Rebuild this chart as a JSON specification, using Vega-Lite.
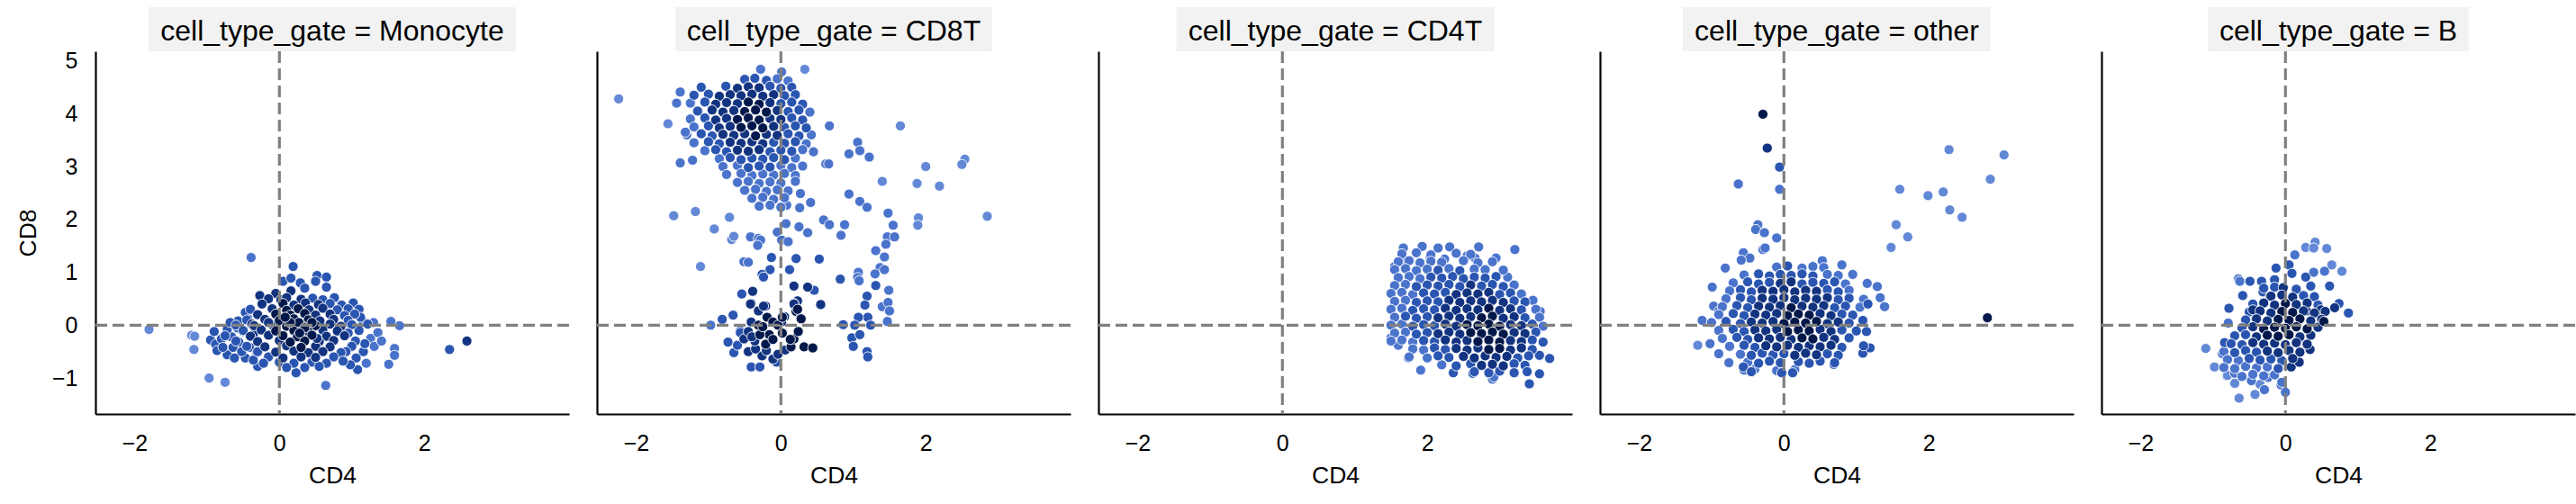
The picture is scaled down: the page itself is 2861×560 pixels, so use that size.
{
"$schema": "https://vega.github.io/schema/vega-lite/v6.json",
"background": "white",
"padding": {"left": 18, "top": 8, "right": 18, "bottom": 10},
"config": {"font": "Liberation Sans", "view": {"stroke": null},
 "axis": {"grid": false, "ticks": false, "tickSize": 0, "labelPadding": 20, "labelFontSize": 25, "titleFontSize": 26.5, "titleFontWeight": "normal", "labelColor": "black", "titleColor": "black", "domainColor": "black", "domainWidth": 2.2, "labelFlush": false, "format": "d"},
 "circle": {"size": 125, "stroke": "white", "strokeWidth": 0.9, "opacity": 1},
 "rule": {"color": "#808080", "strokeWidth": 3.2, "strokeDash": [13, 6]},
 "text": {"fontSize": 32, "color": "black", "align": "center", "baseline": "middle", "dy": 2}},
"datasets": {
"mono": [
{"x":-1.80,"y":-0.08,"d":0},{"x":-0.39,"y":1.28,"d":1},{"x":0.19,"y":1.11,"d":2},{"x":-1.21,"y":-0.19,"d":0},{"x":-1.17,"y":-0.21,"d":0},{"x":-1.18,"y":-0.46,"d":0},{"x":-0.97,"y":-1.0,"d":0},{"x":-0.75,"y":-1.08,"d":0},{"x":0.64,"y":-1.14,"d":1},{"x":2.35,"y":-0.46,"d":2},{"x":2.59,"y":-0.30,"d":3},{"x":1.51,"y":-0.74,"d":1},{"x":1.59,"y":-0.44,"d":1},{"x":1.59,"y":-0.57,"d":1},{"x":1.66,"y":-0.01,"d":1},{"x":1.54,"y":0.07,"d":1},{"x":1.08,"y":-0.84,"d":2},{"x":0.23,"y":-0.9,"d":2},{"x":-0.30,"y":-0.78,"d":2},{"x":1.02,"y":0.42,"d":2},{"x":1.1,"y":0.3,"d":2},{"x":-0.27,"y":0.56,"d":3},{"x":0.05,"y":0.83,"d":2},{"x":0.16,"y":0.89,"d":2},{"x":0.29,"y":0.80,"d":2},{"x":0.52,"y":0.94,"d":2},{"x":0.65,"y":0.91,"d":2},{"x":0.65,"y":0.72,"d":2},{"x":0.50,"y":0.83,"d":2},{"x":0.16,"y":0.65,"d":3},{"x":0.35,"y":0.7,"d":2},{"x":-0.05,"y":0.6,"d":3},
{"x":-0.95,"y":-0.28,"d":2},{"x":-0.88,"y":-0.36,"d":2},{"x":-0.8,"y":-0.26,"d":2},{"x":-0.86,"y":-0.48,"d":2},{"x":-0.72,"y":-0.56,"d":2},{"x":-0.62,"y":-0.62,"d":2},{"x":-0.66,"y":-0.22,"d":2},{"x":-0.56,"y":-0.32,"d":2},{"x":-0.5,"y":-0.12,"d":2},{"x":-0.44,"y":0.13,"d":2},{"x":-0.47,"y":0.24,"d":2},{"x":-0.57,"y":0.08,"d":2},{"x":-0.41,"y":-0.42,"d":2},{"x":-0.36,"y":-0.18,"d":3},{"x":-0.31,"y":-0.52,"d":2},{"x":-0.47,"y":-0.62,"d":2},{"x":-0.36,"y":-0.66,"d":2},{"x":-0.9,"y":-0.12,"d":2},{"x":-0.72,"y":-0.08,"d":2},{"x":-0.78,"y":-0.42,"d":2},{"x":-0.64,"y":-0.42,"d":2},{"x":-0.58,"y":-0.05,"d":2},{"x":-0.38,"y":0.02,"d":3},{"x":-0.68,"y":0.05,"d":2},{"x":-0.52,"y":-0.5,"d":2},
{"x":1.1,"y":-0.1,"d":2},{"x":1.22,"y":0.02,"d":2},{"x":1.26,"y":-0.25,"d":1},{"x":1.31,"y":-0.4,"d":1},{"x":1.16,"y":-0.5,"d":2},{"x":1.06,"y":-0.62,"d":2},{"x":1.2,"y":-0.72,"d":1},{"x":1.36,"y":-0.14,"d":1},{"x":1.41,"y":-0.3,"d":1},{"x":1.12,"y":0.15,"d":2},{"x":1.3,"y":0.05,"d":1},{"x":1.18,"y":-0.35,"d":2},{"x":1.05,"y":-0.3,"d":2},{"x":0.98,"y":-0.75,"d":2},
{"x":-0.15,"y":0.5,"d":3},{"x":0.02,"y":0.48,"d":3},{"x":0.1,"y":0.52,"d":3},{"x":0.3,"y":0.49,"d":3},{"x":0.46,"y":0.51,"d":2},{"x":0.6,"y":0.48,"d":2},{"x":0.76,"y":0.52,"d":2},
{"x":-0.24,"y":0.4,"d":3},{"x":0.05,"y":0.41,"d":4},{"x":0.2,"y":0.38,"d":3},{"x":0.36,"y":0.42,"d":3},{"x":0.54,"y":0.39,"d":3},{"x":0.7,"y":0.41,"d":2},{"x":0.86,"y":0.38,"d":2},
{"x":-0.4,"y":0.3,"d":2},{"x":-0.1,"y":0.31,"d":3},{"x":0.1,"y":0.28,"d":4},{"x":0.26,"y":0.31,"d":4},{"x":0.41,"y":0.29,"d":3},{"x":0.6,"y":0.32,"d":3},{"x":0.8,"y":0.29,"d":2},{"x":0.95,"y":0.31,"d":2},
{"x":-0.3,"y":0.2,"d":3},{"x":-0.05,"y":0.21,"d":4},{"x":0.15,"y":0.19,"d":4},{"x":0.35,"y":0.22,"d":4},{"x":0.5,"y":0.19,"d":3},{"x":0.7,"y":0.21,"d":3},{"x":0.9,"y":0.18,"d":2},{"x":1.04,"y":0.21,"d":2},
{"x":-0.45,"y":0.1,"d":2},{"x":-0.2,"y":0.11,"d":3},{"x":0.0,"y":0.09,"d":4},{"x":0.2,"y":0.12,"d":4},{"x":0.4,"y":0.1,"d":4},{"x":0.56,"y":0.08,"d":3},{"x":0.75,"y":0.11,"d":3},{"x":0.95,"y":0.09,"d":2},{"x":1.15,"y":0.08,"d":1},
{"x":-0.6,"y":0.0,"d":2},{"x":-0.35,"y":-0.01,"d":3},{"x":-0.1,"y":0.01,"d":3},{"x":0.1,"y":-0.02,"d":4},{"x":0.3,"y":0.01,"d":4},{"x":0.5,"y":-0.01,"d":4},{"x":0.7,"y":0.02,"d":3},{"x":0.85,"y":-0.02,"d":3},{"x":1.0,"y":0.01,"d":2},
{"x":-0.5,"y":-0.1,"d":2},{"x":-0.25,"y":-0.09,"d":3},{"x":-0.05,"y":-0.11,"d":4},{"x":0.2,"y":-0.1,"d":4},{"x":0.4,"y":-0.12,"d":4},{"x":0.6,"y":-0.09,"d":3},{"x":0.8,"y":-0.11,"d":3},{"x":0.95,"y":-0.15,"d":2},
{"x":-0.75,"y":-0.2,"d":2},{"x":-0.4,"y":-0.21,"d":3},{"x":-0.15,"y":-0.19,"d":3},{"x":0.05,"y":-0.2,"d":4},{"x":0.25,"y":-0.22,"d":4},{"x":0.45,"y":-0.19,"d":4},{"x":0.65,"y":-0.21,"d":3},{"x":0.9,"y":-0.2,"d":3},
{"x":-0.6,"y":-0.3,"d":2},{"x":-0.3,"y":-0.31,"d":3},{"x":0.0,"y":-0.29,"d":3},{"x":0.15,"y":-0.32,"d":4},{"x":0.35,"y":-0.3,"d":4},{"x":0.55,"y":-0.31,"d":3},{"x":0.75,"y":-0.29,"d":3},{"x":1.0,"y":-0.4,"d":2},
{"x":-0.45,"y":-0.4,"d":2},{"x":-0.2,"y":-0.41,"d":3},{"x":0.1,"y":-0.39,"d":3},{"x":0.3,"y":-0.42,"d":4},{"x":0.5,"y":-0.4,"d":3},{"x":0.7,"y":-0.41,"d":3},{"x":0.92,"y":-0.5,"d":2},
{"x":-0.3,"y":-0.5,"d":2},{"x":-0.05,"y":-0.51,"d":3},{"x":0.2,"y":-0.49,"d":3},{"x":0.4,"y":-0.52,"d":3},{"x":0.6,"y":-0.5,"d":3},{"x":0.85,"y":-0.52,"d":2},
{"x":-0.15,"y":-0.6,"d":2},{"x":0.05,"y":-0.62,"d":3},{"x":0.3,"y":-0.6,"d":3},{"x":0.5,"y":-0.61,"d":3},{"x":0.75,"y":-0.6,"d":2},
{"x":-0.22,"y":-0.72,"d":2},{"x":0.0,"y":-0.7,"d":2},{"x":0.2,"y":-0.72,"d":2},{"x":0.45,"y":-0.7,"d":2},{"x":0.65,"y":-0.72,"d":2},{"x":0.88,"y":-0.68,"d":2},
{"x":0.1,"y":-0.8,"d":2},{"x":0.35,"y":-0.8,"d":2},{"x":0.55,"y":-0.78,"d":2},
{"x":0.27,"y":0.05,"d":4},{"x":0.35,"y":-0.05,"d":4},{"x":0.15,"y":0.05,"d":4},{"x":0.45,"y":0.05,"d":4},{"x":0.28,"y":-0.15,"d":4},{"x":0.08,"y":0.15,"d":4},{"x":0.52,"y":-0.25,"d":3},{"x":-0.15,"y":0.05,"d":3}
],
"cd8": [
{"x":-2.24,"y":4.28,"d":0},{"x":-0.28,"y":4.84,"d":1},{"x":0.01,"y":4.79,"d":1},{"x":0.33,"y":4.84,"d":0},{"x":0.67,"y":3.77,"d":1},{"x":1.65,"y":3.77,"d":0},{"x":1.06,"y":3.46,"d":1},{"x":1.09,"y":3.30,"d":1},{"x":0.94,"y":3.24,"d":1},{"x":1.22,"y":3.18,"d":1},{"x":0.62,"y":3.05,"d":1},{"x":0.66,"y":3.05,"d":1},{"x":2.0,"y":3.0,"d":0},{"x":2.54,"y":3.14,"d":0},{"x":2.50,"y":3.04,"d":0},{"x":1.40,"y":2.72,"d":0},{"x":1.88,"y":2.68,"d":0},{"x":2.19,"y":2.63,"d":0},{"x":0.94,"y":2.48,"d":1},{"x":1.09,"y":2.34,"d":1},{"x":1.19,"y":2.23,"d":1},{"x":2.85,"y":2.06,"d":0},{"x":1.48,"y":2.12,"d":1},{"x":1.90,"y":2.03,"d":0},{"x":1.89,"y":1.89,"d":0},{"x":1.55,"y":1.89,"d":1},{"x":1.47,"y":1.67,"d":1},{"x":1.57,"y":1.67,"d":1},{"x":1.45,"y":1.53,"d":1},{"x":1.31,"y":1.41,"d":1},{"x":1.43,"y":1.29,"d":1},{"x":1.37,"y":1.09,"d":1},{"x":1.43,"y":1.05,"d":1},{"x":1.30,"y":0.97,"d":1},{"x":1.07,"y":1.0,"d":1},{"x":1.06,"y":0.9,"d":1},{"x":1.08,"y":0.84,"d":1},{"x":0.82,"y":0.87,"d":2},{"x":1.31,"y":0.75,"d":2},{"x":1.49,"y":0.66,"d":1},{"x":1.19,"y":0.55,"d":2},{"x":1.16,"y":0.38,"d":2},{"x":1.40,"y":0.35,"d":1},{"x":1.48,"y":0.43,"d":1},{"x":1.50,"y":0.27,"d":1},{"x":1.47,"y":0.07,"d":1},{"x":1.20,"y":0.15,"d":2},{"x":1.07,"y":0.15,"d":2},{"x":1.24,"y":0.0,"d":2},{"x":0.86,"y":0.01,"d":2},{"x":1.02,"y":0.0,"d":2},{"x":0.98,"y":-0.24,"d":2},{"x":1.0,"y":-0.4,"d":2},{"x":1.09,"y":-0.18,"d":2},{"x":1.19,"y":-0.5,"d":2},{"x":1.2,"y":-0.6,"d":2},
{"x":-1.48,"y":2.07,"d":0},{"x":-1.18,"y":2.15,"d":0},{"x":-0.92,"y":1.82,"d":0},{"x":-0.71,"y":2.04,"d":0},{"x":-1.11,"y":1.11,"d":0},{"x":-0.68,"y":1.62,"d":0},{"x":-0.65,"y":1.68,"d":0},{"x":-0.42,"y":1.67,"d":1},{"x":-0.31,"y":1.64,"d":1},{"x":-0.28,"y":1.61,"d":1},{"x":-0.32,"y":1.51,"d":1},{"x":-0.51,"y":1.2,"d":1},{"x":-0.45,"y":1.19,"d":1},{"x":-0.05,"y":1.76,"d":1},{"x":0.07,"y":1.92,"d":1},{"x":0.01,"y":1.61,"d":1},{"x":0.1,"y":1.58,"d":1},{"x":0.25,"y":1.86,"d":1},{"x":0.37,"y":1.75,"d":1},{"x":0.59,"y":1.99,"d":1},{"x":0.67,"y":1.9,"d":1},{"x":0.88,"y":1.9,"d":1},{"x":0.83,"y":1.7,"d":1},{"x":0.41,"y":2.32,"d":1},{"x":0.26,"y":2.22,"d":1},{"x":0.08,"y":2.27,"d":1},{"x":0.27,"y":2.49,"d":1},{"x":-0.13,"y":1.28,"d":2},{"x":0.21,"y":1.26,"d":2},{"x":0.53,"y":1.25,"d":2},{"x":0.12,"y":1.05,"d":2},{"x":-0.15,"y":1.05,"d":2},{"x":-0.26,"y":0.96,"d":2},{"x":-0.24,"y":0.91,"d":2},{"x":-0.39,"y":0.64,"d":3},{"x":-0.54,"y":0.59,"d":2},{"x":0.18,"y":0.74,"d":3},{"x":0.37,"y":0.72,"d":3},{"x":0.46,"y":0.66,"d":2},{"x":0.55,"y":0.39,"d":3},{"x":0.23,"y":0.46,"d":3},{"x":0.18,"y":0.41,"d":3},{"x":-0.41,"y":0.41,"d":3},{"x":-0.21,"y":0.36,"d":3},{"x":0.21,"y":0.26,"d":4},{"x":0.27,"y":0.13,"d":4},{"x":0.05,"y":0.16,"d":3},{"x":0.01,"y":0.06,"d":3},{"x":-0.66,"y":0.19,"d":2},{"x":-0.81,"y":0.11,"d":2},{"x":-0.97,"y":0.0,"d":1},{"x":-0.56,"y":-0.11,"d":2},{"x":-0.56,"y":-0.14,"d":2},
{"x":-0.73,"y":-0.32,"d":2},{"x":-0.65,"y":-0.52,"d":2},{"x":-0.6,"y":-0.38,"d":2},{"x":-0.51,"y":-0.26,"d":3},{"x":-0.41,"y":-0.79,"d":2},{"x":-0.29,"y":-0.79,"d":2},{"x":-0.26,"y":-0.58,"d":3},{"x":-0.11,"y":-0.64,"d":3},{"x":-0.06,"y":-0.7,"d":2},{"x":-0.04,"y":-0.55,"d":3},{"x":0.06,"y":-0.47,"d":3},{"x":0.14,"y":-0.41,"d":4},{"x":0.18,"y":-0.26,"d":4},{"x":0.24,"y":-0.12,"d":4},{"x":0.32,"y":-0.41,"d":4},{"x":0.44,"y":-0.43,"d":4},{"x":-0.45,"y":-0.5,"d":3},{"x":-0.35,"y":-0.45,"d":3},{"x":-0.2,"y":-0.48,"d":3},
{"x":-0.31,"y":0.27,"d":3},{"x":-0.24,"y":0.36,"d":3},{"x":-0.19,"y":0.15,"d":4},{"x":-0.11,"y":0.06,"d":4},{"x":-0.04,"y":0.0,"d":4},{"x":-0.16,"y":-0.18,"d":4},{"x":-0.29,"y":-0.18,"d":4},{"x":-0.36,"y":-0.30,"d":3},{"x":-0.21,"y":-0.36,"d":4},{"x":-0.11,"y":-0.27,"d":4},{"x":-0.31,"y":0.0,"d":4},{"x":-0.41,"y":0.06,"d":3},{"x":-0.25,"y":-0.03,"d":4},{"x":0.02,"y":0.15,"d":4},{"x":0.02,"y":-0.15,"d":4},{"x":0.13,"y":-0.27,"d":4},{"x":0.28,"y":0.12,"d":4},{"x":0.23,"y":0.30,"d":4},{"x":0.18,"y":0.40,"d":3},{"x":-0.42,"y":0.4,"d":3},{"x":-0.45,"y":-0.12,"d":3},{"x":-0.4,"y":-0.22,"d":3},
{"x":-0.5,"y":4.65,"d":2},{"x":-0.36,"y":4.67,"d":2},{"x":-0.2,"y":4.63,"d":2},{"x":-0.05,"y":4.66,"d":1},{"x":0.1,"y":4.62,"d":1},
{"x":-1.1,"y":4.5,"d":2},{"x":-0.76,"y":4.52,"d":2},{"x":-0.6,"y":4.48,"d":3},{"x":-0.45,"y":4.51,"d":3},{"x":-0.3,"y":4.49,"d":3},{"x":-0.15,"y":4.52,"d":2},{"x":0.0,"y":4.48,"d":2},{"x":0.15,"y":4.5,"d":2},
{"x":-1.2,"y":4.35,"d":2},{"x":-1.0,"y":4.37,"d":2},{"x":-0.85,"y":4.33,"d":3},{"x":-0.7,"y":4.36,"d":3},{"x":-0.55,"y":4.34,"d":3},{"x":-0.4,"y":4.37,"d":3},{"x":-0.25,"y":4.33,"d":3},{"x":-0.1,"y":4.36,"d":3},{"x":0.05,"y":4.34,"d":2},{"x":0.2,"y":4.36,"d":2},
{"x":-1.25,"y":4.2,"d":1},{"x":-1.05,"y":4.22,"d":2},{"x":-0.9,"y":4.18,"d":3},{"x":-0.75,"y":4.21,"d":3},{"x":-0.6,"y":4.19,"d":3},{"x":-0.45,"y":4.22,"d":4},{"x":-0.3,"y":4.18,"d":4},{"x":-0.15,"y":4.21,"d":3},{"x":0.0,"y":4.19,"d":2},{"x":0.15,"y":4.22,"d":2},{"x":0.3,"y":4.18,"d":2},
{"x":-1.15,"y":4.05,"d":2},{"x":-0.95,"y":4.07,"d":3},{"x":-0.8,"y":4.03,"d":3},{"x":-0.65,"y":4.06,"d":3},{"x":-0.5,"y":4.04,"d":4},{"x":-0.35,"y":4.07,"d":4},{"x":-0.2,"y":4.03,"d":4},{"x":-0.05,"y":4.06,"d":3},{"x":0.1,"y":4.04,"d":2},{"x":0.25,"y":4.07,"d":2},{"x":0.4,"y":4.03,"d":1},
{"x":-1.25,"y":3.9,"d":1},{"x":-1.05,"y":3.92,"d":2},{"x":-0.9,"y":3.88,"d":3},{"x":-0.75,"y":3.91,"d":3},{"x":-0.6,"y":3.89,"d":4},{"x":-0.45,"y":3.92,"d":4},{"x":-0.3,"y":3.88,"d":4},{"x":-0.15,"y":3.91,"d":3},{"x":0.0,"y":3.89,"d":3},{"x":0.15,"y":3.92,"d":2},{"x":0.3,"y":3.88,"d":2},
{"x":-1.2,"y":3.75,"d":1},{"x":-1.0,"y":3.77,"d":2},{"x":-0.85,"y":3.73,"d":3},{"x":-0.7,"y":3.76,"d":3},{"x":-0.55,"y":3.74,"d":4},{"x":-0.4,"y":3.77,"d":4},{"x":-0.25,"y":3.73,"d":4},{"x":-0.1,"y":3.76,"d":3},{"x":0.05,"y":3.74,"d":2},{"x":0.2,"y":3.77,"d":2},{"x":0.35,"y":3.73,"d":2},
{"x":-1.3,"y":3.6,"d":1},{"x":-1.1,"y":3.62,"d":2},{"x":-0.95,"y":3.58,"d":2},{"x":-0.8,"y":3.61,"d":3},{"x":-0.65,"y":3.59,"d":3},{"x":-0.5,"y":3.62,"d":3},{"x":-0.35,"y":3.58,"d":4},{"x":-0.2,"y":3.61,"d":3},{"x":-0.05,"y":3.59,"d":3},{"x":0.1,"y":3.62,"d":2},{"x":0.25,"y":3.58,"d":2},{"x":0.42,"y":3.6,"d":1},
{"x":-1.2,"y":3.45,"d":1},{"x":-1.0,"y":3.47,"d":2},{"x":-0.85,"y":3.43,"d":2},{"x":-0.7,"y":3.46,"d":3},{"x":-0.55,"y":3.44,"d":3},{"x":-0.4,"y":3.47,"d":3},{"x":-0.25,"y":3.43,"d":3},{"x":-0.1,"y":3.46,"d":2},{"x":0.05,"y":3.44,"d":2},{"x":0.2,"y":3.47,"d":2},{"x":0.35,"y":3.43,"d":1},
{"x":-1.05,"y":3.3,"d":1},{"x":-0.9,"y":3.32,"d":2},{"x":-0.75,"y":3.28,"d":2},{"x":-0.6,"y":3.31,"d":3},{"x":-0.45,"y":3.29,"d":3},{"x":-0.3,"y":3.32,"d":3},{"x":-0.15,"y":3.28,"d":2},{"x":0.0,"y":3.31,"d":2},{"x":0.15,"y":3.29,"d":2},{"x":0.3,"y":3.32,"d":1},{"x":0.45,"y":3.28,"d":1},
{"x":-1.39,"y":4.41,"d":1},{"x":-1.56,"y":3.81,"d":0},{"x":-1.44,"y":4.2,"d":1},{"x":-1.32,"y":3.65,"d":1},{"x":-1.39,"y":3.07,"d":1},{"x":-1.22,"y":3.12,"d":1},
{"x":-0.85,"y":3.15,"d":1},{"x":-0.7,"y":3.17,"d":2},{"x":-0.55,"y":3.13,"d":2},{"x":-0.4,"y":3.16,"d":2},{"x":-0.25,"y":3.14,"d":2},{"x":-0.1,"y":3.17,"d":2},{"x":0.05,"y":3.13,"d":2},{"x":0.2,"y":3.16,"d":1},
{"x":-0.8,"y":3.0,"d":1},{"x":-0.6,"y":3.02,"d":1},{"x":-0.45,"y":2.98,"d":2},{"x":-0.3,"y":3.01,"d":2},{"x":-0.15,"y":2.99,"d":2},{"x":0.0,"y":3.02,"d":1},{"x":0.15,"y":2.98,"d":1},{"x":0.3,"y":3.01,"d":1},
{"x":-0.75,"y":2.85,"d":1},{"x":-0.55,"y":2.87,"d":1},{"x":-0.4,"y":2.83,"d":1},{"x":-0.25,"y":2.86,"d":1},{"x":-0.1,"y":2.84,"d":1},{"x":0.05,"y":2.87,"d":1},{"x":0.2,"y":2.83,"d":1},
{"x":-0.6,"y":2.7,"d":1},{"x":-0.45,"y":2.72,"d":1},{"x":-0.3,"y":2.68,"d":1},{"x":-0.15,"y":2.71,"d":1},{"x":0.0,"y":2.69,"d":1},{"x":0.2,"y":2.72,"d":1},
{"x":-0.5,"y":2.55,"d":1},{"x":-0.35,"y":2.57,"d":1},{"x":-0.2,"y":2.53,"d":1},{"x":-0.05,"y":2.56,"d":1},{"x":0.1,"y":2.54,"d":1},
{"x":-0.4,"y":2.4,"d":1},{"x":-0.25,"y":2.42,"d":1},{"x":-0.1,"y":2.38,"d":1},{"x":0.05,"y":2.41,"d":1},
{"x":-0.3,"y":2.25,"d":1},{"x":-0.15,"y":2.27,"d":1},{"x":0.0,"y":2.23,"d":1}
],
"cd4": [
{"x":1.67,"y":1.46,"d":1},{"x":1.93,"y":1.49,"d":1},{"x":2.15,"y":1.46,"d":1},{"x":2.31,"y":1.48,"d":1},{"x":2.71,"y":1.48,"d":1},{"x":3.21,"y":1.43,"d":1},{"x":2.95,"y":1.27,"d":1},{"x":2.66,"y":1.27,"d":1},{"x":2.55,"y":1.31,"d":1},{"x":2.24,"y":1.25,"d":1},{"x":2.04,"y":1.28,"d":1},{"x":1.65,"y":1.23,"d":1},{"x":1.55,"y":1.11,"d":1},{"x":2.80,"y":1.05,"d":1},{"x":3.11,"y":0.91,"d":1},
{"x":1.91,"y":-0.85,"d":1},{"x":2.36,"y":-0.9,"d":2},{"x":2.63,"y":-0.91,"d":2},{"x":2.90,"y":-1.02,"d":1},{"x":2.92,"y":-0.98,"d":1},{"x":3.41,"y":-1.11,"d":2},{"x":3.55,"y":-0.92,"d":2},{"x":3.69,"y":-0.63,"d":2},{"x":3.55,"y":-0.57,"d":2},{"x":3.56,"y":0.26,"d":1},{"x":3.46,"y":0.47,"d":1},{"x":1.74,"y":-0.62,"d":1},{"x":1.50,"y":-0.24,"d":1},{"x":1.60,"y":-0.38,"d":1},
{"x":1.65,"y":1.35,"d":1},{"x":1.85,"y":1.37,"d":1},{"x":2.05,"y":1.33,"d":1},{"x":2.4,"y":1.36,"d":1},{"x":2.6,"y":1.34,"d":1},
{"x":1.6,"y":1.2,"d":1},{"x":1.75,"y":1.22,"d":1},{"x":1.9,"y":1.18,"d":1},{"x":2.05,"y":1.21,"d":1},{"x":2.2,"y":1.19,"d":1},{"x":2.5,"y":1.22,"d":1},{"x":2.7,"y":1.18,"d":1},{"x":2.9,"y":1.2,"d":1},
{"x":1.55,"y":1.05,"d":1},{"x":1.7,"y":1.07,"d":1},{"x":1.85,"y":1.03,"d":1},{"x":2.0,"y":1.06,"d":1},{"x":2.15,"y":1.04,"d":2},{"x":2.3,"y":1.07,"d":1},{"x":2.45,"y":1.03,"d":2},{"x":2.65,"y":1.06,"d":1},{"x":3.05,"y":1.04,"d":1},
{"x":1.6,"y":0.9,"d":1},{"x":1.75,"y":0.92,"d":1},{"x":1.9,"y":0.88,"d":1},{"x":2.05,"y":0.91,"d":2},{"x":2.2,"y":0.89,"d":2},{"x":2.35,"y":0.92,"d":2},{"x":2.5,"y":0.88,"d":2},{"x":2.65,"y":0.91,"d":2},{"x":2.8,"y":0.89,"d":2},{"x":2.95,"y":0.92,"d":2},
{"x":1.55,"y":0.75,"d":1},{"x":1.7,"y":0.77,"d":1},{"x":1.85,"y":0.73,"d":2},{"x":2.0,"y":0.76,"d":2},{"x":2.15,"y":0.74,"d":2},{"x":2.3,"y":0.77,"d":2},{"x":2.45,"y":0.73,"d":2},{"x":2.6,"y":0.76,"d":3},{"x":2.75,"y":0.74,"d":2},{"x":2.9,"y":0.77,"d":2},{"x":3.05,"y":0.73,"d":2},{"x":3.2,"y":0.76,"d":1},
{"x":1.5,"y":0.6,"d":1},{"x":1.65,"y":0.62,"d":1},{"x":1.8,"y":0.58,"d":1},{"x":1.95,"y":0.61,"d":2},{"x":2.1,"y":0.59,"d":2},{"x":2.25,"y":0.62,"d":2},{"x":2.4,"y":0.58,"d":3},{"x":2.55,"y":0.61,"d":3},{"x":2.7,"y":0.59,"d":3},{"x":2.85,"y":0.62,"d":3},{"x":3.0,"y":0.58,"d":2},{"x":3.15,"y":0.61,"d":2},{"x":3.3,"y":0.59,"d":1},
{"x":1.55,"y":0.45,"d":1},{"x":1.7,"y":0.47,"d":1},{"x":1.85,"y":0.43,"d":2},{"x":2.0,"y":0.46,"d":2},{"x":2.15,"y":0.44,"d":2},{"x":2.3,"y":0.47,"d":3},{"x":2.45,"y":0.43,"d":3},{"x":2.6,"y":0.46,"d":3},{"x":2.75,"y":0.44,"d":3},{"x":2.9,"y":0.47,"d":3},{"x":3.05,"y":0.43,"d":3},{"x":3.2,"y":0.46,"d":2},{"x":3.35,"y":0.44,"d":2},
{"x":1.5,"y":0.3,"d":1},{"x":1.65,"y":0.32,"d":1},{"x":1.8,"y":0.28,"d":2},{"x":1.95,"y":0.31,"d":2},{"x":2.1,"y":0.29,"d":2},{"x":2.25,"y":0.32,"d":3},{"x":2.4,"y":0.28,"d":3},{"x":2.55,"y":0.31,"d":3},{"x":2.7,"y":0.29,"d":3},{"x":2.85,"y":0.32,"d":4},{"x":3.0,"y":0.28,"d":3},{"x":3.15,"y":0.31,"d":3},{"x":3.3,"y":0.29,"d":2},{"x":3.5,"y":0.3,"d":1},
{"x":1.55,"y":0.15,"d":1},{"x":1.7,"y":0.17,"d":2},{"x":1.85,"y":0.13,"d":2},{"x":2.0,"y":0.16,"d":2},{"x":2.15,"y":0.14,"d":3},{"x":2.3,"y":0.17,"d":3},{"x":2.45,"y":0.13,"d":3},{"x":2.6,"y":0.16,"d":3},{"x":2.75,"y":0.14,"d":4},{"x":2.9,"y":0.17,"d":4},{"x":3.05,"y":0.13,"d":3},{"x":3.2,"y":0.16,"d":3},{"x":3.35,"y":0.14,"d":2},{"x":3.55,"y":0.15,"d":1},
{"x":1.5,"y":0.0,"d":1},{"x":1.65,"y":0.02,"d":1},{"x":1.8,"y":-0.02,"d":2},{"x":1.95,"y":0.01,"d":2},{"x":2.1,"y":-0.01,"d":2},{"x":2.25,"y":0.02,"d":3},{"x":2.4,"y":-0.02,"d":3},{"x":2.55,"y":0.01,"d":4},{"x":2.7,"y":-0.01,"d":4},{"x":2.85,"y":0.02,"d":4},{"x":3.0,"y":-0.02,"d":4},{"x":3.15,"y":0.01,"d":3},{"x":3.3,"y":-0.01,"d":3},{"x":3.45,"y":0.02,"d":2},{"x":3.6,"y":-0.02,"d":1},
{"x":1.55,"y":-0.15,"d":1},{"x":1.7,"y":-0.13,"d":1},{"x":1.85,"y":-0.17,"d":2},{"x":2.0,"y":-0.14,"d":2},{"x":2.15,"y":-0.16,"d":3},{"x":2.3,"y":-0.13,"d":3},{"x":2.45,"y":-0.17,"d":3},{"x":2.6,"y":-0.14,"d":4},{"x":2.75,"y":-0.16,"d":4},{"x":2.9,"y":-0.13,"d":4},{"x":3.05,"y":-0.17,"d":4},{"x":3.2,"y":-0.14,"d":3},{"x":3.35,"y":-0.16,"d":3},{"x":3.5,"y":-0.13,"d":2},
{"x":1.5,"y":-0.3,"d":1},{"x":1.65,"y":-0.28,"d":1},{"x":1.8,"y":-0.32,"d":1},{"x":1.95,"y":-0.29,"d":2},{"x":2.1,"y":-0.31,"d":2},{"x":2.25,"y":-0.28,"d":3},{"x":2.4,"y":-0.32,"d":3},{"x":2.55,"y":-0.29,"d":3},{"x":2.7,"y":-0.31,"d":4},{"x":2.85,"y":-0.28,"d":4},{"x":3.0,"y":-0.32,"d":4},{"x":3.15,"y":-0.29,"d":3},{"x":3.3,"y":-0.31,"d":3},{"x":3.45,"y":-0.28,"d":2},{"x":3.6,"y":-0.32,"d":2},
{"x":1.8,"y":-0.45,"d":1},{"x":1.95,"y":-0.47,"d":1},{"x":2.1,"y":-0.43,"d":2},{"x":2.25,"y":-0.46,"d":2},{"x":2.4,"y":-0.44,"d":3},{"x":2.55,"y":-0.47,"d":3},{"x":2.7,"y":-0.43,"d":3},{"x":2.85,"y":-0.46,"d":4},{"x":3.0,"y":-0.44,"d":4},{"x":3.15,"y":-0.47,"d":3},{"x":3.3,"y":-0.43,"d":3},{"x":3.45,"y":-0.46,"d":2},
{"x":1.75,"y":-0.6,"d":1},{"x":2.0,"y":-0.62,"d":1},{"x":2.15,"y":-0.58,"d":2},{"x":2.3,"y":-0.61,"d":2},{"x":2.5,"y":-0.59,"d":3},{"x":2.65,"y":-0.62,"d":3},{"x":2.8,"y":-0.58,"d":3},{"x":2.95,"y":-0.61,"d":3},{"x":3.1,"y":-0.59,"d":3},{"x":3.25,"y":-0.62,"d":2},{"x":3.4,"y":-0.58,"d":2},
{"x":2.2,"y":-0.75,"d":1},{"x":2.4,"y":-0.77,"d":2},{"x":2.6,"y":-0.73,"d":2},{"x":2.75,"y":-0.76,"d":3},{"x":2.9,"y":-0.74,"d":3},{"x":3.05,"y":-0.77,"d":3},{"x":3.2,"y":-0.73,"d":2},{"x":3.35,"y":-0.76,"d":2},
{"x":2.65,"y":-0.88,"d":2},{"x":2.85,"y":-0.9,"d":2},{"x":3.0,"y":-0.87,"d":2},{"x":3.2,"y":-0.9,"d":2},{"x":3.38,"y":-0.88,"d":2}
],
"oth": [
{"x":-0.29,"y":3.99,"d":4},{"x":-0.23,"y":3.35,"d":3},{"x":-0.06,"y":2.99,"d":2},{"x":-0.63,"y":2.67,"d":1},{"x":-0.06,"y":2.57,"d":1},{"x":2.28,"y":3.32,"d":0},{"x":3.04,"y":3.22,"d":0},{"x":2.85,"y":2.76,"d":0},{"x":1.60,"y":2.57,"d":0},{"x":1.99,"y":2.45,"d":0},{"x":2.20,"y":2.52,"d":0},{"x":2.29,"y":2.18,"d":0},{"x":2.46,"y":2.04,"d":0},{"x":1.55,"y":1.90,"d":0},{"x":1.71,"y":1.67,"d":0},{"x":1.48,"y":1.47,"d":0},{"x":2.81,"y":0.14,"d":4},
{"x":-0.36,"y":1.9,"d":1},{"x":-0.39,"y":1.81,"d":1},{"x":-0.27,"y":1.75,"d":1},{"x":-0.1,"y":1.65,"d":1},{"x":-0.29,"y":1.43,"d":1},{"x":-0.26,"y":1.46,"d":1},{"x":-0.56,"y":1.37,"d":1},{"x":-0.47,"y":1.27,"d":1},{"x":-0.59,"y":1.23,"d":1},{"x":-0.81,"y":1.08,"d":1},{"x":-0.99,"y":0.72,"d":1},{"x":-0.97,"y":0.36,"d":1},{"x":-0.9,"y":0.26,"d":1},{"x":-1.13,"y":0.09,"d":1},{"x":-1.19,"y":-0.38,"d":0},{"x":-1.02,"y":-0.35,"d":1},{"x":-0.9,"y":-0.54,"d":1},{"x":-0.76,"y":-0.71,"d":1},{"x":-0.56,"y":-0.79,"d":2},{"x":-0.45,"y":-0.88,"d":2},{"x":-0.03,"y":-0.9,"d":2},{"x":0.12,"y":-0.9,"d":2},{"x":0.69,"y":-0.74,"d":2},{"x":1.09,"y":-0.53,"d":2},{"x":1.19,"y":-0.43,"d":2},{"x":1.14,"y":-0.12,"d":2},{"x":1.09,"y":0.09,"d":2},{"x":1.33,"y":0.52,"d":1},{"x":1.39,"y":0.35,"d":1},{"x":1.29,"y":0.73,"d":1},{"x":1.15,"y":0.79,"d":1},{"x":0.95,"y":0.96,"d":1},{"x":0.8,"y":1.14,"d":1},{"x":0.53,"y":1.22,"d":1},{"x":1.16,"y":0.4,"d":2},
{"x":-0.1,"y":1.1,"d":1},{"x":0.05,"y":1.12,"d":2},{"x":0.25,"y":1.08,"d":1},{"x":0.4,"y":1.11,"d":1},{"x":0.55,"y":1.09,"d":1},
{"x":-0.55,"y":0.95,"d":1},{"x":-0.35,"y":0.97,"d":2},{"x":-0.2,"y":0.93,"d":2},{"x":-0.05,"y":0.96,"d":2},{"x":0.1,"y":0.94,"d":2},{"x":0.25,"y":0.97,"d":2},{"x":0.4,"y":0.93,"d":2},{"x":0.6,"y":0.96,"d":1},{"x":0.75,"y":0.94,"d":1},
{"x":-0.7,"y":0.8,"d":1},{"x":-0.5,"y":0.82,"d":2},{"x":-0.35,"y":0.78,"d":2},{"x":-0.2,"y":0.81,"d":2},{"x":-0.05,"y":0.79,"d":3},{"x":0.1,"y":0.82,"d":3},{"x":0.25,"y":0.78,"d":2},{"x":0.4,"y":0.81,"d":2},{"x":0.55,"y":0.79,"d":2},{"x":0.7,"y":0.82,"d":2},{"x":0.85,"y":0.78,"d":1},
{"x":-0.75,"y":0.65,"d":1},{"x":-0.6,"y":0.67,"d":2},{"x":-0.45,"y":0.63,"d":2},{"x":-0.3,"y":0.66,"d":3},{"x":-0.15,"y":0.64,"d":3},{"x":0.0,"y":0.67,"d":3},{"x":0.15,"y":0.63,"d":3},{"x":0.3,"y":0.66,"d":3},{"x":0.45,"y":0.64,"d":3},{"x":0.6,"y":0.67,"d":2},{"x":0.75,"y":0.63,"d":2},{"x":0.9,"y":0.66,"d":1},
{"x":-0.8,"y":0.5,"d":1},{"x":-0.6,"y":0.52,"d":2},{"x":-0.45,"y":0.48,"d":2},{"x":-0.3,"y":0.51,"d":3},{"x":-0.15,"y":0.49,"d":3},{"x":0.0,"y":0.52,"d":3},{"x":0.15,"y":0.48,"d":3},{"x":0.3,"y":0.51,"d":3},{"x":0.45,"y":0.49,"d":3},{"x":0.6,"y":0.52,"d":3},{"x":0.75,"y":0.48,"d":2},{"x":0.9,"y":0.51,"d":2},{"x":1.1,"y":0.49,"d":1},
{"x":-0.85,"y":0.35,"d":1},{"x":-0.65,"y":0.37,"d":2},{"x":-0.5,"y":0.33,"d":2},{"x":-0.35,"y":0.36,"d":3},{"x":-0.2,"y":0.34,"d":3},{"x":-0.05,"y":0.37,"d":3},{"x":0.1,"y":0.33,"d":4},{"x":0.25,"y":0.36,"d":3},{"x":0.4,"y":0.34,"d":3},{"x":0.55,"y":0.37,"d":3},{"x":0.7,"y":0.33,"d":2},{"x":0.85,"y":0.36,"d":2},{"x":1.05,"y":0.34,"d":1},
{"x":-0.9,"y":0.2,"d":1},{"x":-0.7,"y":0.22,"d":2},{"x":-0.55,"y":0.18,"d":2},{"x":-0.4,"y":0.21,"d":3},{"x":-0.25,"y":0.19,"d":3},{"x":-0.1,"y":0.22,"d":3},{"x":0.05,"y":0.18,"d":4},{"x":0.2,"y":0.21,"d":4},{"x":0.35,"y":0.19,"d":4},{"x":0.5,"y":0.22,"d":3},{"x":0.65,"y":0.18,"d":3},{"x":0.8,"y":0.21,"d":2},{"x":0.95,"y":0.19,"d":2},
{"x":-1.0,"y":0.05,"d":1},{"x":-0.8,"y":0.07,"d":2},{"x":-0.6,"y":0.03,"d":2},{"x":-0.45,"y":0.06,"d":3},{"x":-0.3,"y":0.04,"d":3},{"x":-0.15,"y":0.07,"d":3},{"x":0.0,"y":0.03,"d":4},{"x":0.15,"y":0.06,"d":4},{"x":0.3,"y":0.04,"d":4},{"x":0.45,"y":0.07,"d":4},{"x":0.6,"y":0.03,"d":3},{"x":0.75,"y":0.06,"d":3},{"x":0.9,"y":0.04,"d":2},
{"x":-0.9,"y":-0.1,"d":1},{"x":-0.7,"y":-0.08,"d":2},{"x":-0.55,"y":-0.12,"d":2},{"x":-0.4,"y":-0.09,"d":3},{"x":-0.25,"y":-0.11,"d":3},{"x":-0.1,"y":-0.08,"d":3},{"x":0.05,"y":-0.12,"d":4},{"x":0.2,"y":-0.09,"d":4},{"x":0.35,"y":-0.11,"d":4},{"x":0.5,"y":-0.08,"d":3},{"x":0.65,"y":-0.12,"d":3},{"x":0.8,"y":-0.09,"d":2},{"x":1.0,"y":-0.11,"d":2},
{"x":-0.85,"y":-0.25,"d":1},{"x":-0.65,"y":-0.23,"d":2},{"x":-0.5,"y":-0.27,"d":2},{"x":-0.35,"y":-0.24,"d":3},{"x":-0.2,"y":-0.26,"d":3},{"x":-0.05,"y":-0.23,"d":3},{"x":0.1,"y":-0.27,"d":3},{"x":0.25,"y":-0.24,"d":4},{"x":0.4,"y":-0.26,"d":4},{"x":0.55,"y":-0.23,"d":3},{"x":0.7,"y":-0.27,"d":3},{"x":0.9,"y":-0.24,"d":2},
{"x":-0.75,"y":-0.4,"d":1},{"x":-0.55,"y":-0.38,"d":2},{"x":-0.4,"y":-0.42,"d":2},{"x":-0.25,"y":-0.39,"d":3},{"x":-0.1,"y":-0.41,"d":3},{"x":0.05,"y":-0.38,"d":3},{"x":0.2,"y":-0.42,"d":3},{"x":0.35,"y":-0.39,"d":3},{"x":0.5,"y":-0.41,"d":3},{"x":0.65,"y":-0.38,"d":3},{"x":0.8,"y":-0.42,"d":2},{"x":1.1,"y":-0.39,"d":2},
{"x":-0.6,"y":-0.55,"d":1},{"x":-0.45,"y":-0.57,"d":2},{"x":-0.3,"y":-0.53,"d":2},{"x":-0.15,"y":-0.56,"d":2},{"x":0.0,"y":-0.54,"d":2},{"x":0.15,"y":-0.57,"d":3},{"x":0.3,"y":-0.53,"d":3},{"x":0.45,"y":-0.56,"d":3},{"x":0.6,"y":-0.54,"d":2},{"x":0.75,"y":-0.57,"d":2},
{"x":-0.5,"y":-0.7,"d":1},{"x":-0.35,"y":-0.72,"d":2},{"x":-0.2,"y":-0.68,"d":2},{"x":-0.05,"y":-0.71,"d":2},{"x":0.2,"y":-0.69,"d":2},{"x":0.35,"y":-0.72,"d":2},{"x":0.5,"y":-0.68,"d":2},{"x":0.7,"y":-0.71,"d":2},
{"x":-0.55,"y":-0.85,"d":1},{"x":-0.4,"y":-0.83,"d":1},{"x":-0.1,"y":-0.86,"d":1},{"x":0.15,"y":-0.84,"d":1}
],
"bcell": [
{"x":0.41,"y":1.57,"d":0},{"x":0.28,"y":1.47,"d":0},{"x":0.39,"y":1.46,"d":0},{"x":0.57,"y":1.45,"d":0},{"x":0.13,"y":1.33,"d":1},{"x":0.64,"y":1.14,"d":0},{"x":0.78,"y":1.02,"d":0},{"x":0.54,"y":1.02,"d":1},{"x":0.39,"y":1.0,"d":1},{"x":-0.13,"y":1.08,"d":2},{"x":0.05,"y":1.14,"d":2},{"x":0.09,"y":0.98,"d":2},{"x":-0.65,"y":0.88,"d":0},{"x":-0.63,"y":0.83,"d":1},{"x":-0.49,"y":0.83,"d":2},{"x":-0.33,"y":0.83,"d":2},{"x":-0.15,"y":0.86,"d":2},{"x":0.28,"y":0.91,"d":2},{"x":0.61,"y":0.74,"d":2},{"x":0.35,"y":0.74,"d":2},{"x":-0.03,"y":0.71,"d":3},{"x":-0.59,"y":0.56,"d":2},{"x":-0.31,"y":0.63,"d":2},{"x":-0.21,"y":0.54,"d":3},{"x":-0.78,"y":0.32,"d":2},{"x":-0.45,"y":0.29,"d":3},{"x":0.74,"y":0.41,"d":2},{"x":0.68,"y":0.33,"d":3},{"x":0.87,"y":0.23,"d":2},{"x":0.53,"y":0.07,"d":4},{"x":0.49,"y":0.29,"d":3},{"x":0.29,"y":0.27,"d":3},{"x":-0.79,"y":0.04,"d":1},{"x":-0.84,"y":-0.33,"d":2},{"x":-1.1,"y":-0.44,"d":0},{"x":-0.87,"y":-0.54,"d":1},{"x":-0.98,"y":-0.79,"d":0},{"x":-0.81,"y":-0.96,"d":0},{"x":-0.64,"y":-1.38,"d":0},{"x":-0.42,"y":-1.31,"d":0},{"x":-0.29,"y":-1.22,"d":1},{"x":-0.06,"y":-1.13,"d":1},{"x":0.0,"y":-1.27,"d":1},{"x":-0.7,"y":-0.91,"d":1},{"x":-0.47,"y":-1.05,"d":1},{"x":-0.24,"y":-0.99,"d":1},{"x":0.08,"y":-0.79,"d":3},{"x":0.19,"y":-0.7,"d":3},{"x":0.34,"y":-0.46,"d":3},
{"x":-0.3,"y":0.7,"d":2},{"x":-0.15,"y":0.72,"d":2},{"x":0.15,"y":0.68,"d":2},
{"x":-0.2,"y":0.55,"d":3},{"x":-0.05,"y":0.57,"d":3},{"x":0.1,"y":0.53,"d":3},{"x":0.25,"y":0.56,"d":2},{"x":0.4,"y":0.54,"d":2},
{"x":-0.45,"y":0.4,"d":2},{"x":-0.3,"y":0.42,"d":3},{"x":-0.15,"y":0.38,"d":3},{"x":0.0,"y":0.41,"d":4},{"x":0.15,"y":0.39,"d":3},{"x":0.3,"y":0.42,"d":3},{"x":0.45,"y":0.38,"d":2},
{"x":-0.5,"y":0.25,"d":2},{"x":-0.35,"y":0.27,"d":3},{"x":-0.2,"y":0.23,"d":3},{"x":-0.05,"y":0.26,"d":4},{"x":0.1,"y":0.24,"d":4},{"x":0.25,"y":0.27,"d":3},{"x":0.4,"y":0.23,"d":3},{"x":0.55,"y":0.26,"d":3},
{"x":-0.55,"y":0.1,"d":2},{"x":-0.4,"y":0.12,"d":3},{"x":-0.25,"y":0.08,"d":3},{"x":-0.1,"y":0.11,"d":4},{"x":0.05,"y":0.09,"d":4},{"x":0.2,"y":0.12,"d":4},{"x":0.35,"y":0.08,"d":3},{"x":0.5,"y":0.11,"d":3},
{"x":-0.6,"y":-0.05,"d":2},{"x":-0.45,"y":-0.03,"d":3},{"x":-0.3,"y":-0.07,"d":4},{"x":-0.15,"y":-0.04,"d":4},{"x":0.0,"y":-0.06,"d":4},{"x":0.15,"y":-0.03,"d":4},{"x":0.3,"y":-0.07,"d":4},{"x":0.45,"y":-0.04,"d":3},
{"x":-0.7,"y":-0.2,"d":2},{"x":-0.55,"y":-0.18,"d":2},{"x":-0.4,"y":-0.22,"d":3},{"x":-0.25,"y":-0.19,"d":4},{"x":-0.1,"y":-0.21,"d":4},{"x":0.05,"y":-0.18,"d":4},{"x":0.2,"y":-0.22,"d":3},{"x":0.35,"y":-0.19,"d":3},
{"x":-0.75,"y":-0.35,"d":2},{"x":-0.6,"y":-0.37,"d":2},{"x":-0.45,"y":-0.33,"d":3},{"x":-0.3,"y":-0.36,"d":3},{"x":-0.15,"y":-0.34,"d":3},{"x":0.0,"y":-0.37,"d":3},{"x":0.15,"y":-0.33,"d":3},{"x":0.3,"y":-0.36,"d":3},
{"x":-0.85,"y":-0.5,"d":1},{"x":-0.7,"y":-0.52,"d":2},{"x":-0.55,"y":-0.48,"d":2},{"x":-0.4,"y":-0.51,"d":2},{"x":-0.25,"y":-0.49,"d":3},{"x":-0.1,"y":-0.52,"d":3},{"x":0.05,"y":-0.48,"d":3},{"x":0.2,"y":-0.51,"d":3},
{"x":-0.8,"y":-0.65,"d":1},{"x":-0.65,"y":-0.67,"d":1},{"x":-0.5,"y":-0.63,"d":2},{"x":-0.35,"y":-0.66,"d":2},{"x":-0.2,"y":-0.64,"d":2},{"x":-0.05,"y":-0.67,"d":2},{"x":0.1,"y":-0.63,"d":3},
{"x":-0.85,"y":-0.8,"d":1},{"x":-0.7,"y":-0.82,"d":1},{"x":-0.55,"y":-0.78,"d":1},{"x":-0.4,"y":-0.81,"d":1},{"x":-0.25,"y":-0.79,"d":1},{"x":-0.1,"y":-0.82,"d":2},
{"x":-0.8,"y":-0.95,"d":0},{"x":-0.6,"y":-0.97,"d":1},{"x":-0.45,"y":-0.93,"d":1},{"x":-0.3,"y":-0.96,"d":1},{"x":-0.15,"y":-0.94,"d":1},
{"x":-0.7,"y":-1.1,"d":0},{"x":-0.35,"y":-1.12,"d":0},{"x":-0.05,"y":-1.08,"d":1}
]
},
"spacing": 27,
"hconcat": [
{"vconcat": [
 {"width": 408, "height": 49, "view": {"fill": "#f2f2f2", "stroke": null}, "data": {"values": [{"t": "cell_type_gate = Monocyte"}]}, "mark": "text", "encoding": {"text": {"field": "t", "type": "nominal"}}},
 {"width": 526, "height": 403, "data": {"name": "mono"},
  "layer": [
   {"mark": "circle",
    "encoding": {
     "x": {"field": "x", "type": "quantitative", "title": "CD4", "scale": {"domain": [-2.54, 4.0], "nice": false, "zero": false}, "axis": {"values": [-2, 0, 2], "titlePadding": 10}},
     "y": {"field": "y", "type": "quantitative", "title": "CD8", "scale": {"domain": [-1.68, 5.18], "nice": false, "zero": false}, "axis": {"values": [-1, 0, 1, 2, 3, 4, 5], "titlePadding": 12}},
     "color": {"field": "d", "type": "quantitative", "scale": {"domain": [0, 1, 2, 3, 4], "range": ["#6288d6", "#4a73cb", "#2a55b0", "#12337f", "#03184a"]}, "legend": null},
     "order": {"field": "d", "type": "quantitative"}}},
   {"data": {"values": [{"v": 0}]}, "mark": "rule", "encoding": {"x": {"field": "v", "type": "quantitative", "title": "CD4"}}},
   {"data": {"values": [{"v": 0}]}, "mark": "rule", "encoding": {"y": {"field": "v", "type": "quantitative", "title": "CD8"}}}
  ]}
 ], "spacing": 0, "bounds": "flush", "center": true},
{"vconcat": [
 {"width": 352, "height": 49, "view": {"fill": "#f2f2f2", "stroke": null}, "data": {"values": [{"t": "cell_type_gate = CD8T"}]}, "mark": "text", "encoding": {"text": {"field": "t", "type": "nominal"}}},
 {"width": 526, "height": 403, "data": {"name": "cd8"},
  "layer": [
   {"mark": "circle",
    "encoding": {
     "x": {"field": "x", "type": "quantitative", "title": "CD4", "scale": {"domain": [-2.54, 4.0], "nice": false, "zero": false}, "axis": {"values": [-2, 0, 2], "titlePadding": 10}},
     "y": {"field": "y", "type": "quantitative", "title": null, "scale": {"domain": [-1.68, 5.18], "nice": false, "zero": false}, "axis": {"labels": false, "title": null}},
     "color": {"field": "d", "type": "quantitative", "scale": {"domain": [0, 1, 2, 3, 4], "range": ["#6288d6", "#4a73cb", "#2a55b0", "#12337f", "#03184a"]}, "legend": null},
     "order": {"field": "d", "type": "quantitative"}}},
   {"data": {"values": [{"v": 0}]}, "mark": "rule", "encoding": {"x": {"field": "v", "type": "quantitative", "title": "CD4"}}},
   {"data": {"values": [{"v": 0}]}, "mark": "rule", "encoding": {"y": {"field": "v", "type": "quantitative", "title": null}}}
  ]}
 ], "spacing": 0, "bounds": "flush", "center": true},
{"vconcat": [
 {"width": 353, "height": 49, "view": {"fill": "#f2f2f2", "stroke": null}, "data": {"values": [{"t": "cell_type_gate = CD4T"}]}, "mark": "text", "encoding": {"text": {"field": "t", "type": "nominal"}}},
 {"width": 526, "height": 403, "data": {"name": "cd4"},
  "layer": [
   {"mark": "circle",
    "encoding": {
     "x": {"field": "x", "type": "quantitative", "title": "CD4", "scale": {"domain": [-2.54, 4.0], "nice": false, "zero": false}, "axis": {"values": [-2, 0, 2], "titlePadding": 10}},
     "y": {"field": "y", "type": "quantitative", "title": null, "scale": {"domain": [-1.68, 5.18], "nice": false, "zero": false}, "axis": {"labels": false, "title": null}},
     "color": {"field": "d", "type": "quantitative", "scale": {"domain": [0, 1, 2, 3, 4], "range": ["#6288d6", "#4a73cb", "#2a55b0", "#12337f", "#03184a"]}, "legend": null},
     "order": {"field": "d", "type": "quantitative"}}},
   {"data": {"values": [{"v": 0}]}, "mark": "rule", "encoding": {"x": {"field": "v", "type": "quantitative", "title": "CD4"}}},
   {"data": {"values": [{"v": 0}]}, "mark": "rule", "encoding": {"y": {"field": "v", "type": "quantitative", "title": null}}}
  ]}
 ], "spacing": 0, "bounds": "flush", "center": true},
{"vconcat": [
 {"width": 342, "height": 49, "view": {"fill": "#f2f2f2", "stroke": null}, "data": {"values": [{"t": "cell_type_gate = other"}]}, "mark": "text", "encoding": {"text": {"field": "t", "type": "nominal"}}},
 {"width": 526, "height": 403, "data": {"name": "oth"},
  "layer": [
   {"mark": "circle",
    "encoding": {
     "x": {"field": "x", "type": "quantitative", "title": "CD4", "scale": {"domain": [-2.54, 4.0], "nice": false, "zero": false}, "axis": {"values": [-2, 0, 2], "titlePadding": 10}},
     "y": {"field": "y", "type": "quantitative", "title": null, "scale": {"domain": [-1.68, 5.18], "nice": false, "zero": false}, "axis": {"labels": false, "title": null}},
     "color": {"field": "d", "type": "quantitative", "scale": {"domain": [0, 1, 2, 3, 4], "range": ["#6288d6", "#4a73cb", "#2a55b0", "#12337f", "#03184a"]}, "legend": null},
     "order": {"field": "d", "type": "quantitative"}}},
   {"data": {"values": [{"v": 0}]}, "mark": "rule", "encoding": {"x": {"field": "v", "type": "quantitative", "title": "CD4"}}},
   {"data": {"values": [{"v": 0}]}, "mark": "rule", "encoding": {"y": {"field": "v", "type": "quantitative", "title": null}}}
  ]}
 ], "spacing": 0, "bounds": "flush", "center": true},
{"vconcat": [
 {"width": 290, "height": 49, "view": {"fill": "#f2f2f2", "stroke": null}, "data": {"values": [{"t": "cell_type_gate = B"}]}, "mark": "text", "encoding": {"text": {"field": "t", "type": "nominal"}}},
 {"width": 526, "height": 403, "data": {"name": "bcell"},
  "layer": [
   {"mark": "circle",
    "encoding": {
     "x": {"field": "x", "type": "quantitative", "title": "CD4", "scale": {"domain": [-2.54, 4.0], "nice": false, "zero": false}, "axis": {"values": [-2, 0, 2], "titlePadding": 10}},
     "y": {"field": "y", "type": "quantitative", "title": null, "scale": {"domain": [-1.68, 5.18], "nice": false, "zero": false}, "axis": {"labels": false, "title": null}},
     "color": {"field": "d", "type": "quantitative", "scale": {"domain": [0, 1, 2, 3, 4], "range": ["#6288d6", "#4a73cb", "#2a55b0", "#12337f", "#03184a"]}, "legend": null},
     "order": {"field": "d", "type": "quantitative"}}},
   {"data": {"values": [{"v": 0}]}, "mark": "rule", "encoding": {"x": {"field": "v", "type": "quantitative", "title": "CD4"}}},
   {"data": {"values": [{"v": 0}]}, "mark": "rule", "encoding": {"y": {"field": "v", "type": "quantitative", "title": null}}}
  ]}
 ], "spacing": 0, "bounds": "flush", "center": true}
]
}
